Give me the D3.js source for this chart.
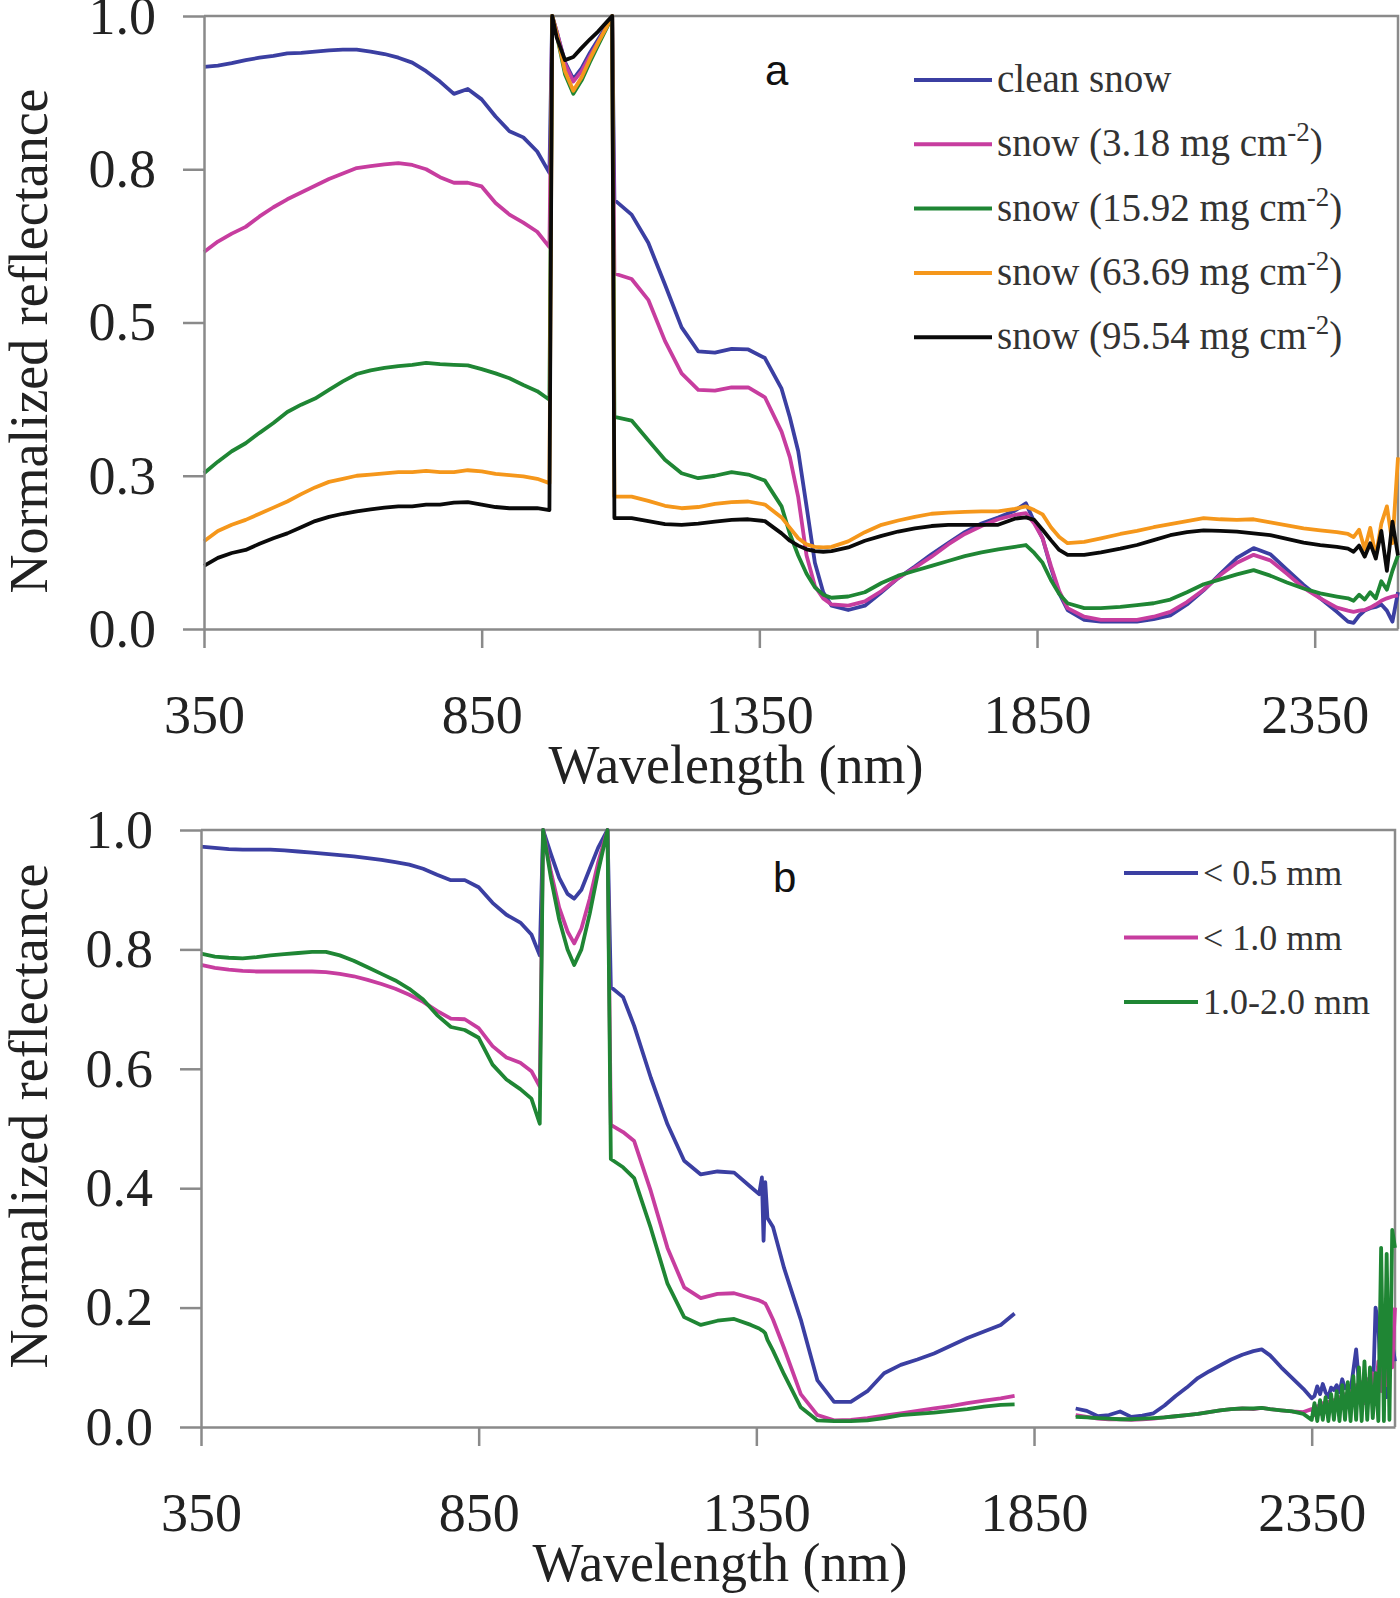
<!DOCTYPE html>
<html>
<head>
<meta charset="utf-8">
<script src="https://cdn.jsdelivr.net/npm/d3@7"></script>
<style>
body { margin: 0; background: #fff; }
svg { display: block; background: #fff; }
.axis path, .axis line { stroke: #8a8a8a; stroke-width: 2.5; }
.axis text { font-family: "Liberation Serif", "Times New Roman", serif; fill: #222; font-size: 54px; }
</style>
</head>
<body>
<svg id="chart"></svg>
<script>
// panel a: wavelength grid and the five dust-loading spectra
var waveA = [350, 375, 400, 425, 450, 475, 500, 525, 550, 575, 600, 625, 650, 675, 700, 725, 750, 775, 800, 825, 850, 875, 900, 925, 950, 972,
  977, 985, 1000, 1015, 1030, 1045, 1060, 1075, 1085,
  1089, 1120, 1150, 1180, 1210, 1240, 1270, 1300, 1330, 1360, 1390, 1405, 1420, 1435, 1450, 1465, 1480, 1510, 1540, 1570,
  1600, 1630, 1660, 1690, 1720, 1750, 1780, 1810, 1830, 1845, 1860, 1875, 1890, 1905, 1935, 1965, 2000, 2030, 2060, 2090,
  2120, 2150, 2180, 2210, 2240, 2270, 2300, 2330, 2360, 2390, 2410, 2420, 2430, 2440, 2450, 2460, 2470, 2480, 2490, 2500];

var cleanSnow = [0.917, 0.919, 0.923, 0.928, 0.932, 0.935, 0.939, 0.940, 0.942, 0.944, 0.945, 0.945, 0.942, 0.938, 0.932, 0.924, 0.910, 0.893, 0.873, 0.881, 0.864, 0.836, 0.812, 0.802, 0.779, 0.744,
  1.0, 0.975, 0.925, 0.897, 0.915, 0.94, 0.962, 0.984, 1.0,
  0.70, 0.676, 0.63, 0.562, 0.492, 0.453, 0.451, 0.457, 0.456, 0.442, 0.392, 0.345, 0.29, 0.2, 0.108, 0.06, 0.038, 0.031, 0.038, 0.06,
  0.083, 0.102, 0.122, 0.14, 0.158, 0.172, 0.182, 0.193, 0.205, 0.175, 0.148, 0.1, 0.058, 0.031, 0.015, 0.012, 0.012, 0.012, 0.016, 0.022,
  0.04, 0.063, 0.09, 0.116, 0.132, 0.122, 0.097, 0.072, 0.05, 0.028, 0.012, 0.01, 0.022, 0.03, 0.034, 0.036, 0.04, 0.03, 0.012, 0.06];

var snow318 = [0.615, 0.632, 0.645, 0.656, 0.673, 0.688, 0.701, 0.712, 0.723, 0.734, 0.743, 0.752, 0.755, 0.758, 0.76, 0.757, 0.75, 0.737, 0.728, 0.728, 0.722, 0.695, 0.676, 0.663, 0.648, 0.623,
  1.0, 0.975, 0.922, 0.893, 0.91, 0.935, 0.958, 0.982, 1.0,
  0.58, 0.571, 0.537, 0.47, 0.417, 0.39, 0.389, 0.394, 0.394, 0.378, 0.322, 0.28, 0.215, 0.12, 0.07, 0.05, 0.04, 0.038, 0.045, 0.062,
  0.083, 0.1, 0.118, 0.138, 0.155, 0.168, 0.179, 0.186, 0.189, 0.172, 0.148, 0.103, 0.062, 0.034, 0.02, 0.015, 0.015, 0.015, 0.02, 0.028,
  0.044, 0.064, 0.088, 0.108, 0.121, 0.112, 0.09, 0.067, 0.05, 0.035, 0.03, 0.028, 0.03, 0.031, 0.035, 0.04, 0.046, 0.05, 0.053, 0.055];

var snow1592 = [0.254, 0.273, 0.29, 0.303, 0.32, 0.336, 0.354, 0.366, 0.376, 0.39, 0.404, 0.416, 0.422, 0.426, 0.429, 0.431, 0.434, 0.432, 0.431, 0.43, 0.424, 0.417, 0.409, 0.398, 0.388, 0.374,
  1.0, 0.97, 0.905, 0.873, 0.895, 0.925, 0.953, 0.98, 1.0,
  0.346, 0.34, 0.308, 0.276, 0.254, 0.246, 0.25, 0.256, 0.252, 0.242, 0.2, 0.155, 0.12, 0.09, 0.068, 0.056, 0.051, 0.053, 0.06, 0.075,
  0.087, 0.095, 0.103, 0.111, 0.119, 0.125, 0.13, 0.134, 0.137, 0.124, 0.108, 0.08, 0.057, 0.042, 0.034, 0.034, 0.036, 0.039, 0.042, 0.048,
  0.06, 0.073, 0.081, 0.089, 0.096, 0.087, 0.076, 0.066, 0.058, 0.053, 0.05, 0.046, 0.056, 0.048, 0.06, 0.05, 0.078, 0.064, 0.095, 0.12];

var snow6369 = [0.143, 0.16, 0.17, 0.178, 0.188, 0.198, 0.208, 0.22, 0.231, 0.24, 0.245, 0.25, 0.252, 0.254, 0.256, 0.256, 0.258, 0.256, 0.256, 0.259, 0.257, 0.253, 0.251, 0.249, 0.245, 0.238,
  1.0, 0.972, 0.91, 0.878, 0.9, 0.93, 0.957, 0.982, 1.0,
  0.216, 0.216, 0.209, 0.201, 0.197, 0.199, 0.204, 0.207, 0.208, 0.203, 0.182, 0.165, 0.148, 0.138, 0.134, 0.133, 0.134, 0.143, 0.158, 0.17,
  0.177, 0.183, 0.188, 0.19, 0.191, 0.192, 0.192, 0.196, 0.2, 0.194, 0.187, 0.166, 0.15, 0.14, 0.142, 0.148, 0.155, 0.16, 0.166, 0.171,
  0.176, 0.181, 0.179, 0.178, 0.179, 0.174, 0.169, 0.164, 0.161, 0.158, 0.155, 0.15, 0.162, 0.13, 0.165, 0.118, 0.172, 0.2, 0.14, 0.28];

var snow9554 = [0.103, 0.116, 0.124, 0.129, 0.139, 0.148, 0.156, 0.166, 0.176, 0.183, 0.188, 0.192, 0.195, 0.198, 0.2, 0.2, 0.203, 0.203, 0.206, 0.207, 0.203, 0.199, 0.197, 0.197, 0.197, 0.194,
  1.0, 0.965, 0.928, 0.933, 0.948, 0.962, 0.975, 0.99, 1.0,
  0.181, 0.181, 0.176, 0.171, 0.17, 0.172, 0.175, 0.178, 0.179, 0.176, 0.156, 0.144, 0.136, 0.13, 0.127, 0.126, 0.127, 0.133, 0.144, 0.152,
  0.159, 0.164, 0.168, 0.17, 0.17, 0.17, 0.17, 0.18, 0.182, 0.178, 0.162, 0.145, 0.129, 0.121, 0.121, 0.125, 0.131, 0.137, 0.145, 0.153,
  0.158, 0.161, 0.16, 0.159, 0.156, 0.153, 0.147, 0.141, 0.137, 0.134, 0.131, 0.126, 0.136, 0.118, 0.14, 0.115, 0.16, 0.095, 0.175, 0.12];

// panel b: grain size spectra (null = gap in the record)
var waveB = [350, 375, 400, 425, 450, 475, 500, 525, 550, 575, 600, 625, 650, 675, 700, 725, 750, 775, 800, 825, 850, 875, 900, 925, 945, 960,
  966, 980, 995, 1010, 1022, 1035, 1050, 1065, 1082,
  1088, 1110, 1130, 1160, 1190, 1220, 1250, 1280, 1310, 1340, 1355, 1360, 1363, 1366, 1370, 1380, 1400, 1430, 1460, 1490,
  1520, 1550, 1580, 1610, 1640, 1670, 1700, 1730, 1760, 1790, 1815,
  1870,
  1925, 1945, 1965, 1985, 2005, 2025, 2045, 2065, 2085, 2105, 2125, 2145, 2165, 2185, 2205, 2225, 2245, 2260, 2275, 2295, 2315, 2335,
  2350, 2355, 2360, 2365, 2370, 2375, 2380, 2385, 2390, 2395, 2400, 2405, 2410, 2415, 2420, 2425, 2430, 2435, 2440, 2445,
  2450, 2455, 2460, 2465, 2470, 2475, 2480, 2485, 2490, 2495, 2500];

var grain05 = [0.972, 0.97, 0.968, 0.967, 0.967, 0.967, 0.966, 0.964, 0.962, 0.96, 0.958, 0.956, 0.953, 0.95, 0.946, 0.942, 0.935, 0.925, 0.916, 0.916, 0.904, 0.878, 0.858, 0.845, 0.825, 0.79,
  1.0, 0.96, 0.92, 0.893, 0.885, 0.9, 0.935, 0.97, 1.0,
  0.737, 0.72, 0.672, 0.585, 0.507, 0.446, 0.423, 0.428, 0.426, 0.402, 0.39, 0.418, 0.312, 0.41, 0.35, 0.335, 0.266, 0.18, 0.078, 0.042,
  0.042, 0.06, 0.09, 0.104, 0.113, 0.123, 0.136, 0.149, 0.16, 0.171, 0.19,
  null,
  0.031, 0.027, 0.018, 0.02, 0.026, 0.017, 0.019, 0.023, 0.036, 0.052, 0.066, 0.082, 0.093, 0.103, 0.113, 0.121, 0.127, 0.13, 0.12, 0.1, 0.082, 0.064,
  0.048, 0.052, 0.068, 0.055, 0.072, 0.058, 0.05, 0.066, 0.062, 0.07, 0.058, 0.08, 0.065, 0.07, 0.06, 0.095, 0.13, 0.075, 0.055, 0.06,
  0.04, 0.055, 0.045, 0.2, 0.17, 0.07, 0.065, 0.05, 0.09, 0.14, 0.11];

var grain10 = [0.774, 0.769, 0.766, 0.764, 0.763, 0.763, 0.763, 0.763, 0.763, 0.762, 0.759, 0.755, 0.749, 0.742, 0.734, 0.724, 0.712, 0.697, 0.684, 0.683, 0.668, 0.638, 0.619, 0.61, 0.596, 0.57,
  1.0, 0.93, 0.87, 0.83, 0.81, 0.835, 0.885, 0.945, 1.0,
  0.506, 0.494, 0.479, 0.395, 0.3, 0.234, 0.216, 0.223, 0.224, 0.216, 0.212, 0.21, 0.208, 0.207, 0.2, 0.18, 0.132, 0.055, 0.02, 0.011,
  0.012, 0.015, 0.019, 0.023, 0.027, 0.031, 0.035, 0.04, 0.044, 0.048, 0.052,
  null,
  0.02, 0.017, 0.014, 0.013, 0.013, 0.012, 0.013, 0.014, 0.016, 0.018, 0.02, 0.022, 0.025, 0.028, 0.03, 0.031, 0.03, 0.032, 0.03, 0.028, 0.026, 0.025,
  0.03, 0.02, 0.035, 0.022, 0.04, 0.025, 0.042, 0.028, 0.045, 0.03, 0.05, 0.032, 0.055, 0.035, 0.06, 0.04, 0.07, 0.045, 0.075, 0.04,
  0.08, 0.045, 0.09, 0.05, 0.11, 0.06, 0.13, 0.07, 0.16, 0.1, 0.2];

var grain20 = [0.793, 0.788, 0.786, 0.785, 0.787, 0.79, 0.792, 0.794, 0.796, 0.796, 0.79, 0.781, 0.77, 0.759, 0.748, 0.734, 0.716, 0.69, 0.67, 0.665, 0.652, 0.607, 0.582, 0.566, 0.55, 0.508,
  1.0, 0.92, 0.85, 0.8, 0.774, 0.8, 0.86, 0.93, 1.0,
  0.449, 0.435, 0.417, 0.333, 0.24, 0.184, 0.171, 0.178, 0.181, 0.171, 0.165, 0.162, 0.16, 0.157, 0.146, 0.128, 0.088, 0.033, 0.011, 0.01,
  0.01, 0.011, 0.015, 0.02, 0.022, 0.024, 0.027, 0.03, 0.034, 0.037, 0.038,
  null,
  0.017, 0.016, 0.015, 0.014, 0.013, 0.013, 0.014, 0.015, 0.016, 0.018, 0.02, 0.022, 0.025, 0.028, 0.03, 0.031, 0.031, 0.032, 0.03, 0.028, 0.026, 0.022,
  0.012, 0.04, 0.01, 0.045, 0.012, 0.05, 0.01, 0.055, 0.012, 0.06, 0.01, 0.07, 0.012, 0.075, 0.01, 0.085, 0.012, 0.1, 0.01, 0.11,
  0.012, 0.1, 0.015, 0.09, 0.01, 0.3, 0.01, 0.29, 0.012, 0.33, 0.3];

var xTicks = [350, 850, 1350, 1850, 2350];
var yTicksA = [0, 0.25, 0.5, 0.75, 1];
var yLabelsA = ["0.0", "0.3", "0.5", "0.8", "1.0"];
var yTicksB = [0, 0.2, 0.4, 0.6, 0.8, 1];
var yLabelsB = ["0.0", "0.2", "0.4", "0.6", "0.8", "1.0"];

var namesA = ["clean snow", "snow (3.18 mg cm^-2^)", "snow (15.92 mg cm^-2^)", "snow (63.69 mg cm^-2^)", "snow (95.54 mg cm^-2^)"];
var namesB = ["< 0.5 mm", "< 1.0 mm", "1.0-2.0 mm"];
var colorsA = ["#3b3fa2", "#c73d9f", "#1f8634", "#f5971b", "#0a0a0a"];
var colorsB = ["#3b3fa2", "#c73d9f", "#1f8634"];

var svg = d3.select('#chart').attr('width', 1400).attr('height', 1598);
svg.append('rect').attr('width', 1400).attr('height', 1598).attr('fill', '#fff');

function drawPanel(p) {
  var x = d3.scaleLinear().domain([350, 2500]).range([p.left, p.right]);
  var y = d3.scaleLinear().domain([0, 1]).range([p.bottom, p.top]);

  // frame top + right
  svg.append('path')
    .attr('d', 'M' + p.left + ',' + p.top + 'H' + p.right + 'V' + p.bottom)
    .attr('fill', 'none').attr('stroke', '#8a8a8a').attr('stroke-width', 2.5);

  var line = d3.line()
    .defined(function (d) { return d[1] != null; })
    .x(function (d) { return x(d[0]); })
    .y(function (d) { return y(d[1]); });

  p.series.forEach(function (vals, i) {
    svg.append('path')
      .datum(p.wave.map(function (w, j) { return [w, vals[j]]; }))
      .attr('d', line)
      .attr('fill', 'none')
      .attr('stroke', p.colors[i])
      .attr('stroke-width', 3.8)
      .attr('stroke-linejoin', 'round');
  });

  var gx = svg.append('g').attr('class', 'axis')
    .attr('transform', 'translate(0,' + p.bottom + ')')
    .call(d3.axisBottom(x).tickValues(xTicks).tickSize(19).tickSizeOuter(0).tickFormat(d3.format('d')));
  gx.selectAll('text').attr('y', 104).attr('dy', null);

  svg.append('g').attr('class', 'axis')
    .attr('transform', 'translate(' + p.left + ',0)')
    .call(d3.axisLeft(y).tickValues(p.yTicks).tickSize(21).tickPadding(27).tickSizeOuter(0)
      .tickFormat(function (d, i) { return p.yLabels[i]; }));

  svg.append('text')
    .attr('x', p.titleX).attr('y', p.bottom + 154)
    .attr('text-anchor', 'middle')
    .style('font-family', '"Liberation Serif", serif').style('font-size', '54px').style('fill', '#222')
    .text('Wavelength (nm)');

  svg.append('text')
    .attr('transform', 'translate(47,' + p.yTitleY + ') rotate(-90)')
    .attr('text-anchor', 'middle')
    .style('font-family', '"Liberation Serif", serif').style('font-size', '54px').style('fill', '#222')
    .text('Normalized reflectance');

  svg.append('text')
    .attr('x', p.letterX).attr('y', p.letterY)
    .style('font-family', '"Liberation Sans", Arial, sans-serif').style('font-size', '42px').style('fill', '#111')
    .text(p.letter);

  // legend
  p.names.forEach(function (name, i) {
    var ly = p.legY + i * p.legStep;
    svg.append('line')
      .attr('x1', p.legX).attr('x2', p.legX + p.legLen)
      .attr('y1', ly).attr('y2', ly)
      .attr('stroke', p.colors[i]).attr('stroke-width', 4);
    var parts = name.split('^');
    var t = svg.append('text')
      .attr('x', p.legX + p.legLen + 5).attr('y', ly + 12)
      .style('font-family', '"Liberation Serif", serif').style('font-size', p.legFont + 'px')
      .style('fill', '#333');
    t.append('tspan').text(parts[0]);
    if (parts.length > 1) {
      t.append('tspan').attr('dy', -15).style('font-size', '27px').text(parts[1]);
      t.append('tspan').attr('dy', 15).text(parts[2]);
    }
  });
}

drawPanel({
  left: 204, right: 1398, top: 16, bottom: 629,
  wave: waveA, series: [cleanSnow, snow318, snow1592, snow6369, snow9554], colors: colorsA,
  yTicks: yTicksA, yLabels: yLabelsA,
  titleX: 736, yTitleY: 341,
  letter: 'a', letterX: 765, letterY: 85,
  names: namesA, legX: 914, legLen: 78, legY: 80, legStep: 64.3, legFont: 39
});

drawPanel({
  left: 201, right: 1395, top: 830, bottom: 1427,
  wave: waveB, series: [grain05, grain10, grain20], colors: colorsB,
  yTicks: yTicksB, yLabels: yLabelsB,
  titleX: 720, yTitleY: 1116,
  letter: 'b', letterX: 773, letterY: 892,
  names: namesB, legX: 1124, legLen: 74, legY: 873, legStep: 64.5, legFont: 36
});
</script>
</body>
</html>
